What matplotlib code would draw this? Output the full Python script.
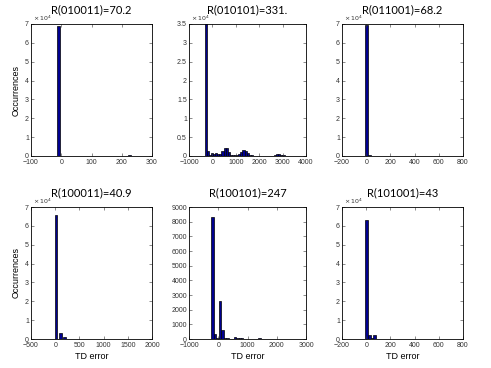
import matplotlib
matplotlib.use("Agg")
import matplotlib.pyplot as plt
from matplotlib.ticker import FuncFormatter

plt.rcParams["font.family"] = ["Liberation Sans", "DejaVu Sans"]

TITLES = ["R(010011)=70.2", "R(010101)=331.", "R(011001)=68.2",
          "R(100011)=40.9", "R(100101)=247", "R(101001)=43"]

# bin centres / counts
c1 = [-30, -8, 68, 225]
n1 = [150, 69000, 150, 700]

c2 = [-290, -200, -110, -20, 70, 160, 250, 340, 430, 520, 610, 700, 790, 880, 970,
      1060, 1150, 1240, 1330, 1420, 1510, 1600, 1690, 1780, 1870, 1960, 2050, 2140,
      2230, 2320, 2410, 2500, 2590, 2680, 2770, 2860, 2950, 3040]
n2 = [36000, 1300, 300, 700, 400, 700, 500, 600, 1200, 2000, 2000, 1000, 300, 200, 150,
      200, 500, 1000, 1500, 1400, 700, 300, 150, 80, 50, 40, 60, 80,
      100, 60, 40, 50, 80, 200, 500, 450, 300, 150]

c3 = [0, 25, 50, 75, 100, 125, 150, 175, 200, 225, 250, 275, 300, 325, 350, 375, 400,
      425, 450, 475, 500, 525, 550, 575, 600, 625, 650, 675, 700, 725]
n3 = [69500, 300, 250, 200, 200, 150, 150, 150, 200, 150, 150, 150, 100, 150, 200, 150,
      150, 150, 100, 150, 150, 100, 200, 100, 150, 100, 100, 100, 200, 100]

c4 = [20, 110, 190, 270, 350, 430, 510, 590, 670, 750, 830, 910, 990, 1070, 1150,
      1230, 1310, 1390, 1470, 1550, 1630]
n4 = [65500, 3300, 1300, 200, 100, 80, 60, 50, 40, 40, 30, 30, 30, 20, 20,
      20, 20, 20, 20, 30, 20]

c5 = [-200, -115, -30, 55, 140, 225, 310, 395, 480, 565, 650, 735, 820, 905, 990,
      1075, 1160, 1245, 1330, 1415, 1500, 1585, 1670, 1755, 1840, 1925, 2010, 2095,
      2180, 2265, 2350, 2435, 2520, 2605, 2690]
n5 = [8350, 350, 40, 2600, 600, 100, 50, 30, 20, 150, 100, 60, 40, 30, 30,
      20, 20, 20, 20, 40, 30, 20, 10, 10, 10, 10, 10, 10,
      10, 30, 20, 10, 10, 10, 30]

c6 = [5, 27, 49, 71, 93, 115, 137, 159, 181, 203, 225, 247, 269, 291, 313, 335, 357,
      379, 401, 423, 445, 467, 489, 511, 533, 555, 577, 599, 621, 643, 665, 687, 709]
n6 = [63000, 2300, 500, 2300, 200, 100, 80, 60, 50, 40, 40, 30, 30, 30, 30, 30, 30,
      30, 30, 30, 30, 30, 30, 60, 30, 30, 40, 30, 30, 30, 30, 30, 60]

CENTRES = [c1, c2, c3, c4, c5, c6]
COUNTS = [n1, n2, n3, n4, n5, n6]
WIDTHS = [8.8, 90, 25, 48, 85, 22]
XLIM = [(-100, 300), (-1000, 4000), (-200, 800), (-500, 2000), (-1000, 3000), (-200, 800)]
XTICKS = [range(-100, 301, 100), range(-1000, 4001, 1000), range(-200, 801, 200),
          range(-500, 2001, 500), range(-1000, 3001, 1000), range(-200, 801, 200)]
YLIM = [7e4, 3.5e4, 7e4, 7e4, 9000, 7e4]
YSTEP = [1e4, 5e3, 1e4, 1e4, 1000, 1e4]
SCALED = [True, True, True, True, False, True]

fig = plt.figure(figsize=(4.91, 3.68), dpi=100)
lefts = [31, 189, 342]
widths = [121, 117, 121]
tops = [24, 207]
H, W = 368, 491

for i in range(6):
    r, c = divmod(i, 3)
    ax = fig.add_axes([lefts[c] / W, 1 - (tops[r] + 132) / H, widths[c] / W, 132 / H])
    ax.bar(CENTRES[i], COUNTS[i], width=WIDTHS[i], color="#000090",
           edgecolor="black", linewidth=0.5)
    ax.set_xlim(*XLIM[i])
    ax.set_ylim(0, YLIM[i])
    ax.set_xticks(list(XTICKS[i]))
    yt = [k * YSTEP[i] for k in range(int(round(YLIM[i] / YSTEP[i])) + 1)]
    ax.set_yticks(yt)
    if SCALED[i]:
        ax.yaxis.set_major_formatter(FuncFormatter(lambda v, p: f"{v / 1e4:g}"))
        ax.text(0.02, 1.005, r"$\times\,10^4$", transform=ax.transAxes,
                fontsize=4.5, color="#333333", va="bottom", ha="left")
    ax.tick_params(direction="in", length=2, width=0.4, labelsize=5,
                   colors="#333333", top=True, right=True, pad=1.5)
    ax.tick_params(axis="x", pad=2.5)
    for s in ax.spines.values():
        s.set_linewidth(0.6)
    ax.set_title(TITLES[i], fontsize=8, family="Lato", pad=7.5)
    if c == 0:
        ax.set_ylabel("Occurrences", fontsize=6.5, labelpad=3)
    if r == 1:
        ax.set_xlabel("TD error", fontsize=6.5, labelpad=1.5)

fig.savefig("out.png", dpi=100, facecolor="white")
